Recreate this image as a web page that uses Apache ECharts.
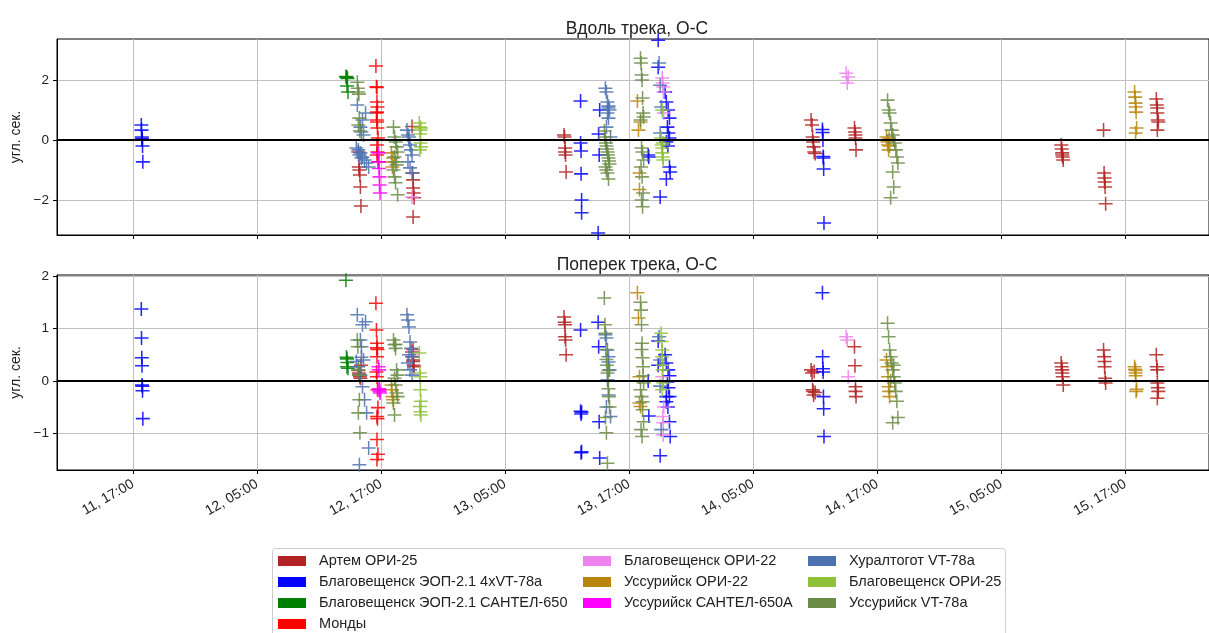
<!DOCTYPE html>
<html><head><meta charset="utf-8">
<script src="https://cdn.jsdelivr.net/npm/echarts@6/dist/echarts.min.js"></script>
<style>html,body{margin:0;padding:0;background:#fff}#c{width:1209px;height:633px}</style>
</head><body><div id="c"></div><script>
// x values: hours since day 11, 00:00
const stationNames = ['Артем ОРИ-25','Благовещенск ЭОП-2.1 4xVT-78a','Благовещенск ЭОП-2.1 САНТЕЛ-650','Монды','Благовещенск ОРИ-22','Уссурийск ОРИ-22','Уссурийск САНТЕЛ-650А','Хуралтогот VT-78a','Благовещенск ОРИ-25','Уссурийск VT-78a'];
const stationColors = ['#b22222','#0000ff','#008000','#ff0000','#ee82ee','#b8860b','#ff00ff','#4c72b0','#8fc13a','#6b8c47'];

const artemT = [38.8,38.85,38.9,38.95,39.0,39.05, 44.0,44.05,44.1,44.1,44.15,44.2,44.1, 58.7,58.75,58.8,58.8,58.85,58.9, 82.6,82.7,82.75,82.8,82.85,82.9,83.0, 86.8,86.85,86.9,86.9,86.95, 106.8,106.85,106.9,106.9,106.95,107.0, 110.9,110.95,111.0,111.0,111.05,111.1, 116.0,116.05,116.1,116.1,116.15,116.2,116.1];
const artemAlong = [-0.4,-0.9,-1.0,-1.17,-1.57,-2.2, 0.45,-1.1,-1.33,-1.6,-1.77,-1.93,-2.57, 0.17,0.1,-0.27,-0.4,-0.5,-1.07, 0.67,0.5,0.1,-0.07,-0.23,-0.4,-0.45, 0.4,0.27,0.17,0.07,-0.33, -0.17,-0.3,-0.43,-0.5,-0.57,-0.67, 0.33,-1.1,-1.27,-1.4,-1.57,-2.13, 1.37,1.17,1.07,0.9,0.67,0.6,0.33];
const artemCross = [0.2,0.15,0.12,0.08,0.05,0.3, 0.55,0.46,0.4,0.37,0.3,0.27,0.6, 1.22,1.12,1.07,0.84,0.78,0.5, 0.21,0.15,-0.17,-0.2,-0.27,0.18,-0.22, 0.65,0.29,-0.11,-0.2,-0.3, 0.34,0.27,0.21,0.15,0.08,-0.08, 0.59,0.46,0.37,0.27,0.05,-0.04, 0.5,0.27,0.21,-0.04,-0.13,-0.2,-0.33];

const blagVtT = [17.8,17.82,17.85,17.87,17.87,17.9,17.92,17.95, 60.3,60.3,60.35,60.35,60.4,60.4, 62.0,62.05,62.1,62.15, 67.81,67.81,68.48,68.6,68.77,68.9,68.7,68.8,68.9,68.6,68.75,66.84,66.9,68.9,68.97,68.6,68.0, 83.7,83.72,83.75,83.77,83.8,83.82,83.85];
const blagVtAlong = [0.5,0.33,0.1,0.05,0.02,0.0,-0.2,-0.73, 1.3,-0.1,-0.37,-1.13,-2.0,-2.43, -3.1,0.2,-0.5,1.0, 3.33,2.43,1.6,1.27,1.0,0.73,0.43,0.23,0.07,-0.07,-0.2,-0.5,-0.57,-0.9,-1.07,-1.3,-1.9, 0.35,0.25,0.0,-0.55,-0.6,-0.97,-2.77];
const blagVtCross = [1.37,0.82,0.44,0.29,-0.08,-0.1,-0.19,-0.72, 0.97,-0.58,-0.63,-1.37,-0.6,-1.35, 1.12,0.65,-0.78,-1.47, 0.3,0.76,0.5,0.34,0.21,0.1,-0.02,-0.13,-0.3,-0.4,-0.5,0.0,-0.67,-0.78,-1.06,-0.3,-1.43, 1.68,0.46,0.23,0.17,-0.3,-0.53,-1.06];

const blagSantelT = [37.6,37.65,37.7,37.75,37.7,37.8];
const blagSantelAlong = [2.12,2.1,2.08,2.05,1.8,1.6];
const blagSantelCross = [1.92,0.45,0.42,0.35,0.27,0.24];

const mondyT = [40.5,40.55,40.6,40.6,40.65,40.6,40.55,40.6,40.65,40.7,40.6,40.65,40.6,40.7,40.6];
const mondyAlong = [2.47,1.78,1.75,1.27,1.1,0.93,0.9,0.67,0.4,0.07,-0.17,-0.4,-0.5,-0.73,0.6];
const mondyCross = [1.48,0.97,0.72,0.63,0.6,0.46,0.17,0.08,-0.17,-0.51,-0.68,-0.72,-1.12,-1.4,-1.5];

const blagOri22T = [44.0, 68.2,68.25,68.3,68.3,68.35, 86.0,86.1,86.2];
const blagOri22Along = [-1.9, 2.07,1.9,1.77,1.6,0.9, 2.23,1.9,2.1];
const blagOri22Cross = [0.5, 0.08,-0.68,-0.8,-1.03,-0.5, 0.84,0.78,0.08];

const ussOri22T = [42.0,42.05,42.1,42.15, 65.8,65.9,66.0,66.0,66.1, 89.9,90.0,90.05,90.1,90.15,90.2, 113.9,113.95,114.0,114.0,114.05,114.1,114.0];
const ussOri22Along = [-0.43,-0.73,-0.9,-0.6, 1.3,0.33,-1.1,-1.65,0.6, 0.1,-0.07,-0.17,-0.33,0.05,-0.2, 1.6,1.43,1.23,1.1,0.93,0.4,0.23];
const ussOri22Cross = [-0.08,-0.17,-0.3,-0.36, 1.68,1.2,0.08,-0.42,-0.49, 0.4,0.27,0.08,-0.11,-0.2,-0.3, 0.27,0.22,0.15,0.1,-0.2,-0.16,0.2];

const ussSantelT = [40.75,40.8,40.8,40.85,40.85,40.9];
const ussSantelAlong = [-0.43,-0.73,-0.95,-1.23,-1.5,-1.77];
const ussSantelCross = [0.27,0.21,-0.15,-0.17,-0.2,-0.23];

const khurT = [38.7,39.5,39.2,39.0,39.1,39.3,38.6,38.8,39.0,39.2,39.4,39.6,39.8,38.9,39.1, 43.5,43.6,43.7,43.8,43.9,44.0,43.6,43.8,44.0,43.7, 62.7,62.8,62.9,63.0,63.0,63.1,62.9,63.0,62.8,63.2, 67.9,68.0,68.1,68.0];
const khurAlong = [1.17,0.9,0.67,0.43,0.27,0.17,-0.27,-0.33,-0.43,-0.57,-0.67,-0.77,-0.9,-0.5,-0.6, 0.33,0.17,0.0,-0.17,-0.33,-0.5,-0.73,-0.93,-1.1,0.1, 1.73,1.6,1.27,1.13,1.07,1.0,0.9,0.73,0.43,0.1, 2.57,1.83,1.1,0.23];
const khurCross = [1.26,1.13,1.07,0.78,0.65,0.4,0.37,0.27,0.11,-0.11,-0.36,-0.61,-1.28,-1.6,0.45, 1.26,1.16,1.03,0.74,0.62,0.46,0.34,0.21,0.11,0.5, 0.88,0.82,0.59,0.46,0.36,0.21,0.02,-0.27,-0.5,-0.68, 0.84,-0.1,-0.93,0.4];

const blagOri25T = [44.7,44.75,44.8,44.8,44.85,44.75,44.8,44.85, 68.1,68.15,68.2,68.2,68.25,68.3,68.2,68.25];
const blagOri25Along = [0.57,0.43,0.33,-0.1,-0.23,-0.33,0.2,0.4, 0.07,-0.17,-0.27,-0.43,-0.57,-0.67,1.0,-0.1];
const blagOri25Cross = [0.53,0.15,0.08,-0.17,-0.39,-0.49,-0.59,-0.65, 0.91,0.75,0.59,0.46,0.21,-0.04,-0.17,0.3];

const ussVtT = [38.7,38.75,38.8,38.85,38.9,38.8,38.95, 42.2,42.3,42.4,42.5,42.6,42.3,42.4,42.5,42.2,42.3,42.4,42.6, 62.6,62.65,62.7,62.75,62.8,62.85,62.9,62.95,63.0,63.05,63.1,62.7,62.8,62.9,63.0, 66.1,66.15,66.2,66.25,66.3,66.35,66.4,66.1,66.2,66.3,66.4,66.15,66.25,66.35,66.2,66.3, 90.0,90.1,90.2,90.3,90.4,90.5,90.6,90.7,90.8,90.9,91.0,90.5,90.6,90.3];
const ussVtAlong = [1.93,1.73,1.6,1.53,0.73,0.5,0.3, 0.43,0.1,-0.07,-0.23,-0.4,-0.57,-0.73,-0.83,-1.0,-1.23,-1.43,-1.83, 0.3,0.1,0.0,-0.1,-0.2,-0.3,-0.4,-0.5,-0.6,-0.7,-0.8,-0.9,-1.0,-1.1,-1.3, 2.73,2.57,2.17,2.0,1.4,0.9,0.77,0.67,-0.27,-0.4,-0.67,-0.9,-1.23,-1.77,-2.0,-2.23, 1.33,1.0,0.9,0.57,0.33,0.17,0.0,-0.1,-0.33,-0.57,-0.77,-1.07,-1.57,-1.93];
const ussVtCross = [0.78,0.65,0.21,0.11,-0.36,-0.61,-0.99, 0.78,0.69,0.62,0.21,0.11,0.05,-0.08,-0.23,-0.42,-0.65,0.7,-0.3, 1.58,1.07,0.91,0.6,0.41,0.3,0.15,0.0,-0.15,-0.3,-0.5,-0.7,-0.99,-1.57,0.2, 1.5,1.35,1.07,0.72,0.44,0.27,-0.04,-0.17,-0.3,-0.55,-0.78,-0.93,-1.06,0.1,0.6,-0.4, 1.1,0.84,0.59,0.46,0.34,0.21,0.08,-0.04,-0.2,-0.39,-0.7,-0.8,0.3,0.0];

const xTickHours = [17,29,41,53,65,77,89,101,113];
const topYTicks = [-2,0,2];
const bottomYTicks = [-1,0,1,2];
const titles = ['Вдоль трека, О-С','Поперек трека, О-С'];
const yName = 'угл. сек.';

const stationData = [
  [artemT, artemAlong, artemCross],
  [blagVtT, blagVtAlong, blagVtCross],
  [blagSantelT, blagSantelAlong, blagSantelCross],
  [mondyT, mondyAlong, mondyCross],
  [blagOri22T, blagOri22Along, blagOri22Cross],
  [ussOri22T, ussOri22Along, ussOri22Cross],
  [ussSantelT, ussSantelAlong, ussSantelCross],
  [khurT, khurAlong, khurCross],
  [blagOri25T, blagOri25Along, blagOri25Cross],
  [ussVtT, ussVtAlong, ussVtCross]
];

const FONT = '"Liberation Sans", Arial, sans-serif';
const TXT = '#222';
const crossPath = 'path://M0,4.45H10V5.55H0Z M4.45,0H5.55V10H4.45Z';
const fmtX = h => (11 + Math.floor(h / 24)) + ', ' + String(h % 24).padStart(2, '0') + ':00';
const fmtY = v => String(v).replace('-', '\u2212');

const X_MIN = 9.645, X_MAX = 121.1;

function xAxisCfg(idx, showLabels) {
  return {
    type: 'value', gridIndex: idx, min: X_MIN, max: X_MAX,
    axisLine: {show: true, onZero: false, lineStyle: {color: '#000', width: 1}},
    axisTick: {show: true, customValues: xTickHours, length: 4, lineStyle: {color: '#000'}},
    axisLabel: {show: showLabels, customValues: xTickHours, formatter: fmtX, rotate: 30, margin: 13,
      fontSize: 14, color: TXT, fontFamily: FONT},
    splitLine: {show: true, lineStyle: {color: '#c0c0c0', width: 1}}
  };
}
function yAxisCfg(idx, min, max, ticks) {
  return {
    type: 'value', gridIndex: idx, min: min, max: max,
    name: yName, nameLocation: 'middle', nameGap: 31, nameRotate: 90,
    nameTextStyle: {fontSize: 14, color: TXT, fontFamily: FONT},
    axisLine: {show: true, lineStyle: {color: '#000', width: 1}},
    axisTick: {show: true, customValues: ticks, length: 4, lineStyle: {color: '#000'}},
    axisLabel: {customValues: ticks, formatter: fmtY, fontSize: 13.5, color: TXT, fontFamily: FONT, margin: 8},
    splitLine: {show: true, lineStyle: {color: '#c0c0c0', width: 1}}
  };
}

const series = [];
stationData.forEach((d, i) => {
  const [t, along, cross] = d;
  for (let g = 0; g < 2; g++) {
    const vals = g === 0 ? along : cross;
    series.push({
      type: 'scatter', name: stationNames[i], xAxisIndex: g, yAxisIndex: g,
      symbol: crossPath, symbolSize: 14,
      itemStyle: {color: stationColors[i], opacity: 0.85},
      data: t.map((tt, k) => [tt, vals[k]]),
      z: 2 + i * 0.01
    });
  }
});
for (let g = 0; g < 2; g++) {
  series.push({
    type: 'scatter', name: 'zero' + g, xAxisIndex: g, yAxisIndex: g, data: [],
    markLine: {silent: true, symbol: 'none', label: {show: false}, animation: false,
      lineStyle: {color: '#000', width: 2, type: 'solid'}, data: [{yAxis: 0}]},
    z: 5
  });
}

function legendCol(left, names) {
  return {
    orient: 'vertical', left: left, top: 553, padding: 0, itemGap: 5,
    itemWidth: 28, itemHeight: 10, icon: 'rect', data: names,
    itemStyle: {opacity: 1},
    textStyle: {fontSize: 14.5, color: TXT, fontFamily: FONT, lineHeight: 16, padding: [0, 0, 0, 8]},
    selectedMode: false
  };
}

const chart = echarts.init(document.getElementById('c'), null, {renderer: 'canvas'});
chart.setOption({
  animation: false,
  backgroundColor: '#fff',
  title: [
    {text: titles[0], left: 632, top: 15, textAlign: 'center', textStyle: {fontSize: 17.5, fontWeight: 'normal', color: TXT, fontFamily: FONT}},
    {text: titles[1], left: 632, top: 251, textAlign: 'center', textStyle: {fontSize: 17.5, fontWeight: 'normal', color: TXT, fontFamily: FONT}}
  ],
  grid: [
    {left: 57, top: 39, right: 0, height: 196, show: true, borderColor: '#000', borderWidth: 1},
    {left: 57, top: 275, right: 0, height: 195, show: true, borderColor: '#000', borderWidth: 1}
  ],
  xAxis: [xAxisCfg(0, false), xAxisCfg(1, true)],
  yAxis: [yAxisCfg(0, -3.17, 3.37, topYTicks), yAxisCfg(1, -1.70, 2.02, bottomYTicks)],
  legend: [
    legendCol(278, stationNames.slice(0, 4)),
    legendCol(583, stationNames.slice(4, 7)),
    legendCol(808, stationNames.slice(7, 10))
  ],
  graphic: [{type: 'rect', shape: {x: 272.5, y: 548.5, width: 733, height: 100, r: 3},
    style: {fill: 'none', stroke: '#cccccc', lineWidth: 1}, z: -1}],
  series: series
});
</script></body></html>
